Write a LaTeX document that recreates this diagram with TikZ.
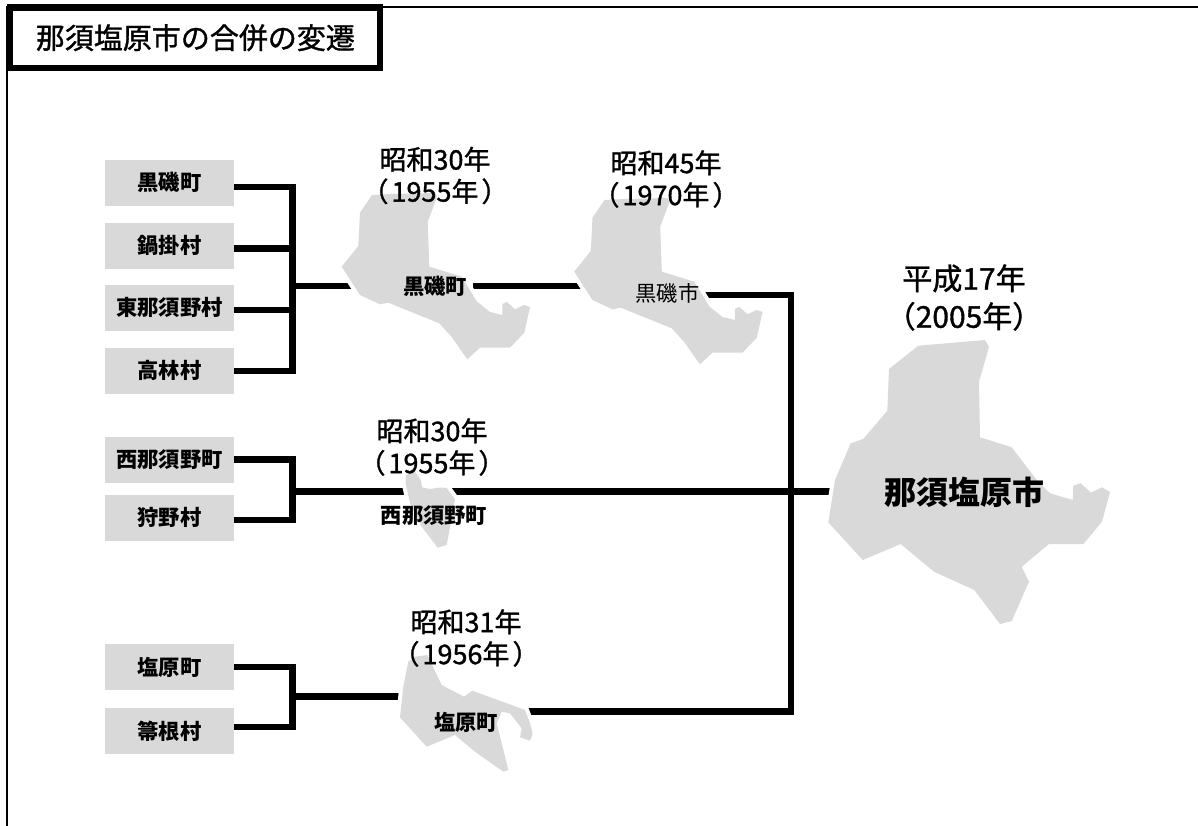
\documentclass[tikz,border=0pt]{standalone}
\usepackage{fontspec}
\setmainfont{Noto Sans CJK JP}
\newfontfamily\medcjk[FakeBold=1.2]{Noto Sans CJK JP}
\begin{document}
\begin{tikzpicture}[x=1pt,y=-1pt,
  town/.style={fill=boxgray,draw=none,minimum width=129pt,minimum height=45.7pt,inner sep=0pt,font=\fontsize{21.3}{23}\selectfont\bfseries,text=black},
  conn/.style={line width=6.8pt,black,line cap=butt,line join=miter},
  area/.style={fill=boxgray,preaction={draw=white,line width=8pt,line join=miter}},
  yearlab/.style={inner sep=0pt,align=center,font=\fontsize{27}{32}\medcjk\selectfont,text=black},
  maplab/.style={inner sep=0pt,font=\fontsize{21.3}{23}\selectfont\bfseries,text=black}]
\definecolor{boxgray}{RGB}{217,217,217}
\useasboundingbox (0,0) rectangle (1198,826);
% frame
\draw[line width=1.6pt,black] (7,826) -- (7,7) -- (1198,7);
\node[draw=black,fill=white,line width=6.4pt,minimum width=370.3pt,minimum height=60.5pt,inner sep=0pt,font=\fontsize{29}{30}\medcjk\selectfont] (title) at (194.85,37.75) {\hspace{1pt}那須塩原市の合併の変遷};
% town boxes
\node[town] (b1) at (169.5,182.8) {黒磯町};
\node[town] (b2) at (169.5,245.8) {鍋掛村};
\node[town] (b3) at (169.5,307.8) {東那須野村};
\node[town] (b4) at (169.5,370.8) {高林村};
\node[town] (b5) at (169.5,459.8) {西那須野町};
\node[town] (b6) at (169.5,517.8) {狩野村};
\node[town] (b7) at (169.5,667) {塩原町};
\node[town] (b8) at (169.5,731) {箒根村};
% junctions
\coordinate (a1) at (292.5,187);
\coordinate (a2) at (292.5,248.5);
\coordinate (a3) at (292.5,310);
\coordinate (a4) at (292.5,371);
\coordinate (am) at (292.5,286);
\coordinate (c1) at (292.5,459.5);
\coordinate (c2) at (292.5,520);
\coordinate (cm) at (292.5,491.7);
\coordinate (d1) at (292.5,667);
\coordinate (d2) at (292.5,727);
\coordinate (dm) at (292.5,696.7);
\coordinate (e1) at (791,295);
\coordinate (e2) at (791,711.7);
\coordinate (s1) at (365,286);
\coordinate (s2) at (473,286);
\coordinate (s3) at (600,286);
\coordinate (s4) at (690,295);
\coordinate (s5) at (840,491.7);
\coordinate (s6) at (415,696.7);
\coordinate (s7) at (515,711.7);
% connectors
\draw[conn] (b1.east |- a1) -- (a1) -- (a4) -- (b4.east |- a4);
\draw[conn] (b2.east |- a2) -- (a2);
\draw[conn] (b3.east |- a3) -- (a3);
\draw[conn] (am) -- (s1);
\draw[conn] (s2) -- (s3);
\draw[conn] (b5.east |- c1) -- (c1) -- (c2) -- (b6.east |- c2);
\draw[conn] (cm) -- (s5);
\draw[conn] (b7.east |- d1) -- (d1) -- (d2) -- (b8.east |- d2);
\draw[conn] (dm) -- (s6);
\draw[conn] (s4) -- (e1) -- (e2) -- (s7);
% areas
\newcommand{\kuroiso}{(372,195) -- (391.7,194) -- (435,193) -- (437,197) -- (427.7,221.7) -- (429.3,266.7) -- (461.7,276.7) -- (477,301.7) -- (490,312) -- (502.3,315) -- (502.3,304) -- (507,302) -- (515,309.3) -- (524,305) -- (530,307) -- (524.3,332.7) -- (510,347.7) -- (480,347.7) -- (467.3,359.3) -- (451.7,337) -- (439.3,323.3) -- (388.3,302.7) -- (380,304.3) -- (360,295) -- (341.7,266.7) -- (358.3,246) -- (360,212.7) -- cycle}
\path[area] \kuroiso;
\begin{scope}[shift={(232.5,5)}]
\path[area] \kuroiso;
\end{scope}
\path[area] (405.7,475) -- (415,471.7) -- (420.7,480) -- (422.3,487.5) -- (430,489) -- (440,487.5) -- (446.7,488) -- (455,499.3) -- (446.7,545) -- (437.7,547.7) -- (421.7,526.7) -- (410,503.3) -- (405.7,483.3) -- cycle;
\path[area] (408.3,661.7) -- (415,656.7) -- (427.3,655) -- (441.7,685) -- (464,696.7) -- (472.3,690.7) -- (525,710) -- (530,723.3) -- (532.7,734) -- (530,740.7) -- (520,737.3) -- (521.7,728.3) -- (510,713.3) -- (501.7,711.7) -- (496.7,723.3) -- (508.3,770) -- (503.3,771.7) -- (475,751.7) -- (455,735) -- (426.7,746.7) -- (400,717.3) -- (403.3,686.7) -- cycle;
\path[area] (918.3,345.7) -- (985,340) -- (989,346.7) -- (979,381.7) -- (980,437.3) -- (1011.7,447.3) -- (1036.7,480) -- (1050,493.3) -- (1072.7,500) -- (1073.3,485.7) -- (1080.7,483.3) -- (1091,492.7) -- (1102,487.3) -- (1110,492) -- (1102,521.7) -- (1083.3,544) -- (1049,544) -- (1021.7,566.7) -- (1029,581.7) -- (1011.7,621) -- (1000,624) -- (974.3,590) -- (934,571.7) -- (900.7,544) -- (862.7,560) -- (828.3,522.3) -- (835,480) -- (850.7,443.3) -- (863.3,439) -- (887.3,410.7) -- (889,369) -- cycle;
% year labels
\node[yearlab] (y1) at (435,175.5) {昭和30年\\（\hspace{3pt}1955年\hspace{3pt}）};
\node[yearlab] (y2) at (666,179) {昭和45年\\（\hspace{3pt}1970年\hspace{3pt}）};
\node[yearlab,font=\fontsize{30}{38}\medcjk\selectfont] (y3) at (964,297.5) {平成17年\\（2005年）};
\node[yearlab] (y4) at (432,447) {昭和30年\\（\hspace{3pt}1955年\hspace{3pt}）};
\node[yearlab] (y5) at (466,638) {昭和31年\\（\hspace{3pt}1956年\hspace{3pt}）};
% map labels
\node[maplab] (m1) at (435,286.5) {黒磯町};
\node[maplab,font=\fontsize{21.3}{23}\selectfont] (m2) at (667.5,293) {黒磯市};
\node[maplab] (m3) at (434,516) {西那須野町};
\node[maplab] (m4) at (466,722) {塩原町};
\node[inner sep=0pt,font=\fontsize{32}{34}\selectfont\bfseries] (m5) at (964,492.7) {那須塩原市};
\end{tikzpicture}
\end{document}
